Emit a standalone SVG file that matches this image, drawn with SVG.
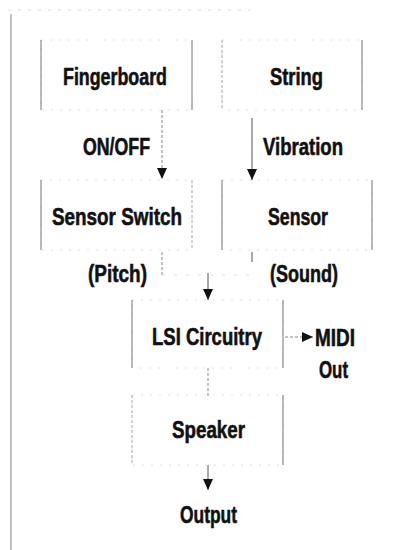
<svg xmlns="http://www.w3.org/2000/svg" width="393" height="550" viewBox="0 0 393 550">
<defs>
<marker id="ah" markerWidth="11" markerHeight="10" refX="11" refY="5" orient="auto" markerUnits="userSpaceOnUse" viewBox="0 0 11 10">
<path d="M0,0 L11,5 L0,10 Z" fill="#111"/>
</marker>
</defs>
<style>
.lbl{font-family:"Liberation Sans",Arial,sans-serif;font-weight:bold;font-size:24px;fill:#111;stroke:#111;stroke-width:0.6}
.edge{fill:none;stroke:#e2e2e2;stroke-width:1;stroke-dasharray:2 7}
.side{stroke:#777;stroke-width:1}
.faint{stroke:#aaa;stroke-width:1;stroke-dasharray:3 2}
.conn{stroke:#555;stroke-width:1;fill:none}
.connf{stroke:#888;stroke-width:1;fill:none;stroke-dasharray:3 2}
</style>
<rect width="393" height="550" fill="#fff"/>
<g id="frame">
<line x1="11" y1="14" x2="11" y2="550" stroke="#888" stroke-width="1"/>
<line x1="8" y1="10" x2="250" y2="10" stroke="#d8d8d8" stroke-width="1" stroke-dasharray="3 7"/>
</g>
<g id="fingerboard">
<rect class="edge" x="41" y="40" width="151" height="70"/>
<line class="side" x1="41" y1="40" x2="41" y2="110"/>
<line class="side" x1="192" y1="40" x2="192" y2="110"/>
<text class="lbl" x="63" y="85" textLength="104" lengthAdjust="spacingAndGlyphs">Fingerboard</text>
</g>
<g id="string">
<rect class="edge" x="222" y="40" width="140" height="70"/>
<line class="faint" x1="222" y1="40" x2="222" y2="110"/>
<line class="side" x1="362" y1="40" x2="362" y2="110"/>
<text class="lbl" x="270" y="85" textLength="53" lengthAdjust="spacingAndGlyphs">String</text>
</g>
<g id="sensor-switch">
<rect class="edge" x="41" y="180" width="151" height="70"/>
<line class="side" x1="41" y1="180" x2="41" y2="250"/>
<line class="faint" x1="192" y1="180" x2="192" y2="250"/>
<text class="lbl" x="52" y="225" textLength="130" lengthAdjust="spacingAndGlyphs">Sensor Switch</text>
</g>
<g id="sensor">
<rect class="edge" x="222" y="180" width="150" height="70"/>
<line class="side" x1="222" y1="180" x2="222" y2="250"/>
<line class="side" x1="372" y1="180" x2="372" y2="250"/>
<text class="lbl" x="268" y="225" textLength="60" lengthAdjust="spacingAndGlyphs">Sensor</text>
</g>
<g id="lsi">
<rect class="edge" x="132" y="300" width="151" height="68"/>
<line class="side" x1="132" y1="300" x2="132" y2="368"/>
<line class="side" x1="283" y1="300" x2="283" y2="368"/>
<text class="lbl" x="152" y="345" textLength="110" lengthAdjust="spacingAndGlyphs">LSI Circuitry</text>
</g>
<g id="speaker">
<rect class="edge" x="132" y="395" width="151" height="70"/>
<line class="faint" x1="132" y1="395" x2="132" y2="465"/>
<line class="side" x1="283" y1="395" x2="283" y2="465"/>
<text class="lbl" x="172" y="438" textLength="73" lengthAdjust="spacingAndGlyphs">Speaker</text>
</g>
<g id="connectors">
<line class="connf" x1="162" y1="110" x2="162" y2="179" marker-end="url(#ah)"/>
<line class="conn" x1="252" y1="118" x2="252" y2="180" marker-end="url(#ah)"/>
<line class="connf" x1="162" y1="252" x2="162" y2="275"/>
<line class="conn" x1="252" y1="252" x2="252" y2="262"/>
<line x1="162" y1="275" x2="252" y2="275" stroke="#e0e0e0" stroke-width="1" stroke-dasharray="3 9"/>
<line class="conn" x1="208" y1="273" x2="208" y2="300" marker-end="url(#ah)"/>
<line class="connf" x1="285" y1="337" x2="313" y2="337" marker-end="url(#ah)"/>
<line class="connf" x1="208" y1="368" x2="208" y2="396"/>
<line class="conn" x1="208" y1="465" x2="208" y2="490" marker-end="url(#ah)"/>
</g>
<g id="labels">
<text class="lbl" x="83" y="155" textLength="67" lengthAdjust="spacingAndGlyphs">ON/OFF</text>
<text class="lbl" x="263" y="155" textLength="80" lengthAdjust="spacingAndGlyphs">Vibration</text>
<text class="lbl" x="88" y="282" textLength="59" lengthAdjust="spacingAndGlyphs">(Pitch)</text>
<text class="lbl" x="270" y="282" textLength="68" lengthAdjust="spacingAndGlyphs">(Sound)</text>
<text class="lbl" x="315" y="346" textLength="40" lengthAdjust="spacingAndGlyphs">MIDI</text>
<text class="lbl" x="319" y="378" textLength="29" lengthAdjust="spacingAndGlyphs">Out</text>
<text class="lbl" x="180" y="523" textLength="57" lengthAdjust="spacingAndGlyphs">Output</text>
</g>
</svg>
